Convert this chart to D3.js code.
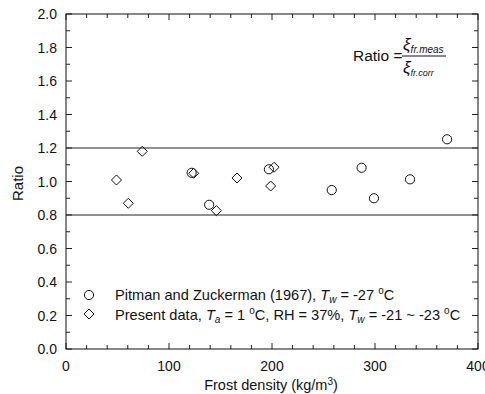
<!DOCTYPE html>
<html><head><meta charset="utf-8">
<script src="https://cdn.jsdelivr.net/npm/d3@7"></script>
<style>body{margin:0;background:#fff}svg{display:block}text{font-family:"Liberation Sans",Arial,sans-serif;fill:#111}</style>
</head><body><svg id="c" width="485" height="394"></svg>
<script>
const pitmanX = [122, 139, 197, 258, 287, 299, 334, 370];
const pitmanY = [1.052, 0.861, 1.073, 0.949, 1.082, 0.900, 1.013, 1.252];
const presentX = [49, 60.5, 74, 124, 146, 166, 198.7, 202];
const presentY = [1.009, 0.870, 1.180, 1.049, 0.826, 1.021, 0.973, 1.085];
const refLines = [0.8, 1.2];
const xTicks = [0, 100, 200, 300, 400];
const yTicks = [0, 0.2, 0.4, 0.6, 0.8, 1.0, 1.2, 1.4, 1.6, 1.8, 2.0];

const svg = d3.select("#c");
const L = 66, R = 478, T = 14, B = 349;
const x = d3.scaleLinear().domain([0, 400]).range([L, R]);
const y = d3.scaleLinear().domain([0, 2]).range([B, T]);

const xMinor = d3.range(0, 401, 20), yMinor = d3.range(0, 2.001, 0.1);
const tk = svg.append("g").attr("stroke", "#222").attr("stroke-width", 1);
xMinor.forEach(v => {
  const len = (v % 100 === 0) ? 6 : 4;
  tk.append("line").attr("x1", x(v)).attr("x2", x(v)).attr("y1", B).attr("y2", B - len);
  tk.append("line").attr("x1", x(v)).attr("x2", x(v)).attr("y1", T).attr("y2", T + len);
});
yMinor.forEach((v, i) => {
  const len = (i % 2 === 0) ? 6 : 4;
  tk.append("line").attr("y1", y(v)).attr("y2", y(v)).attr("x1", L).attr("x2", L + len);
  tk.append("line").attr("y1", y(v)).attr("y2", y(v)).attr("x1", R).attr("x2", R - len);
});

svg.append("rect").attr("x", L).attr("y", T).attr("width", R - L).attr("height", B - T)
  .attr("fill", "none").attr("stroke", "#111").attr("stroke-width", 1);

svg.selectAll(".ref").data(refLines).join("line")
  .attr("x1", L).attr("x2", R).attr("y1", d => y(d)).attr("y2", d => y(d))
  .attr("stroke", "#222").attr("stroke-width", 1.2);

svg.selectAll(".xl").data(xTicks).join("text")
  .attr("x", d => x(d)).attr("y", 371).attr("text-anchor", "middle")
  .attr("font-size", 14).text(d => d);
svg.selectAll(".yl").data(yTicks).join("text")
  .attr("x", 57).attr("y", d => y(d) + 5).attr("text-anchor", "end")
  .attr("font-size", 14).text(d => d.toFixed(1));

svg.append("text").attr("transform", "translate(23," + ((T + B) / 2 + 2) + ") rotate(-90)")
  .attr("text-anchor", "middle").attr("font-size", 15).text("Ratio");
const xt = svg.append("text").attr("x", (L + R) / 2 - 1).attr("y", 390).attr("text-anchor", "middle").attr("font-size", 14.5);
xt.append("tspan").text("Frost density (kg/m");
xt.append("tspan").attr("font-size", 10).attr("dy", -5).text("3");
xt.append("tspan").attr("dy", 5).text(")");

const circ = pitmanX.map((v, i) => [v, pitmanY[i]]);
const diam = presentX.map((v, i) => [v, presentY[i]]);
const dsym = d3.symbol().type(d3.symbolDiamond2).size(64);
svg.selectAll(".dm").data(diam).join("path")
  .attr("d", dsym).attr("transform", d => `translate(${x(d[0])},${y(d[1])})`)
  .attr("fill", "none").attr("stroke", "#111").attr("stroke-width", 1);
svg.selectAll(".ci").data(circ).join("circle")
  .attr("cx", d => x(d[0])).attr("cy", d => y(d[1])).attr("r", 4.6)
  .attr("fill", "none").attr("stroke", "#111").attr("stroke-width", 1);

svg.append("circle").attr("cx", 89).attr("cy", 295).attr("r", 4.6).attr("fill", "none").attr("stroke", "#111");
svg.append("path").attr("d", dsym).attr("transform", "translate(89,314)").attr("fill", "none").attr("stroke", "#111");
const fs = 14.6, ss = 10;
const l1 = svg.append("text").attr("x", 115).attr("y", 300).attr("font-size", fs);
l1.append("tspan").text("Pitman and Zuckerman (1967), ");
l1.append("tspan").attr("font-style", "italic").text("T");
l1.append("tspan").attr("font-style", "italic").attr("font-size", ss).attr("dy", 3).text("w");
l1.append("tspan").attr("dy", -3).text(" = -27 ");
l1.append("tspan").attr("font-size", ss).attr("dy", -6).text("o");
l1.append("tspan").attr("dy", 6).text("C");
const l2 = svg.append("text").attr("x", 115).attr("y", 320).attr("font-size", fs);
l2.append("tspan").text("Present data, ");
l2.append("tspan").attr("font-style", "italic").text("T");
l2.append("tspan").attr("font-style", "italic").attr("font-size", ss).attr("dy", 3).text("a");
l2.append("tspan").attr("dy", -3).text(" = 1 ");
l2.append("tspan").attr("font-size", ss).attr("dy", -6).text("o");
l2.append("tspan").attr("dy", 6).text("C, RH = 37%, ");
l2.append("tspan").attr("font-style", "italic").text("T");
l2.append("tspan").attr("font-style", "italic").attr("font-size", ss).attr("dy", 3).text("w");
l2.append("tspan").attr("dy", -3).text(" = -21 ~ -23 ");
l2.append("tspan").attr("font-size", ss).attr("dy", -6).text("o");
l2.append("tspan").attr("dy", 6).text("C");

svg.append("text").attr("x", 353).attr("y", 61).attr("font-size", 15.5).text("Ratio =");
svg.append("line").attr("x1", 402).attr("x2", 446).attr("y1", 56).attr("y2", 56).attr("stroke", "#111").attr("stroke-width", 1);
const num = svg.append("text").attr("x", 403).attr("y", 50).attr("font-family", "Liberation Serif,serif").attr("font-style", "italic").attr("font-size", 17);
num.append("tspan").text("ξ");
num.append("tspan").attr("font-size", 10).attr("dy", 3).text("fr.meas");
const den = svg.append("text").attr("x", 403).attr("y", 73).attr("font-family", "Liberation Serif,serif").attr("font-style", "italic").attr("font-size", 17);
den.append("tspan").text("ξ");
den.append("tspan").attr("font-size", 9).attr("dy", 3).text("fr.corr");
</script></body></html>
